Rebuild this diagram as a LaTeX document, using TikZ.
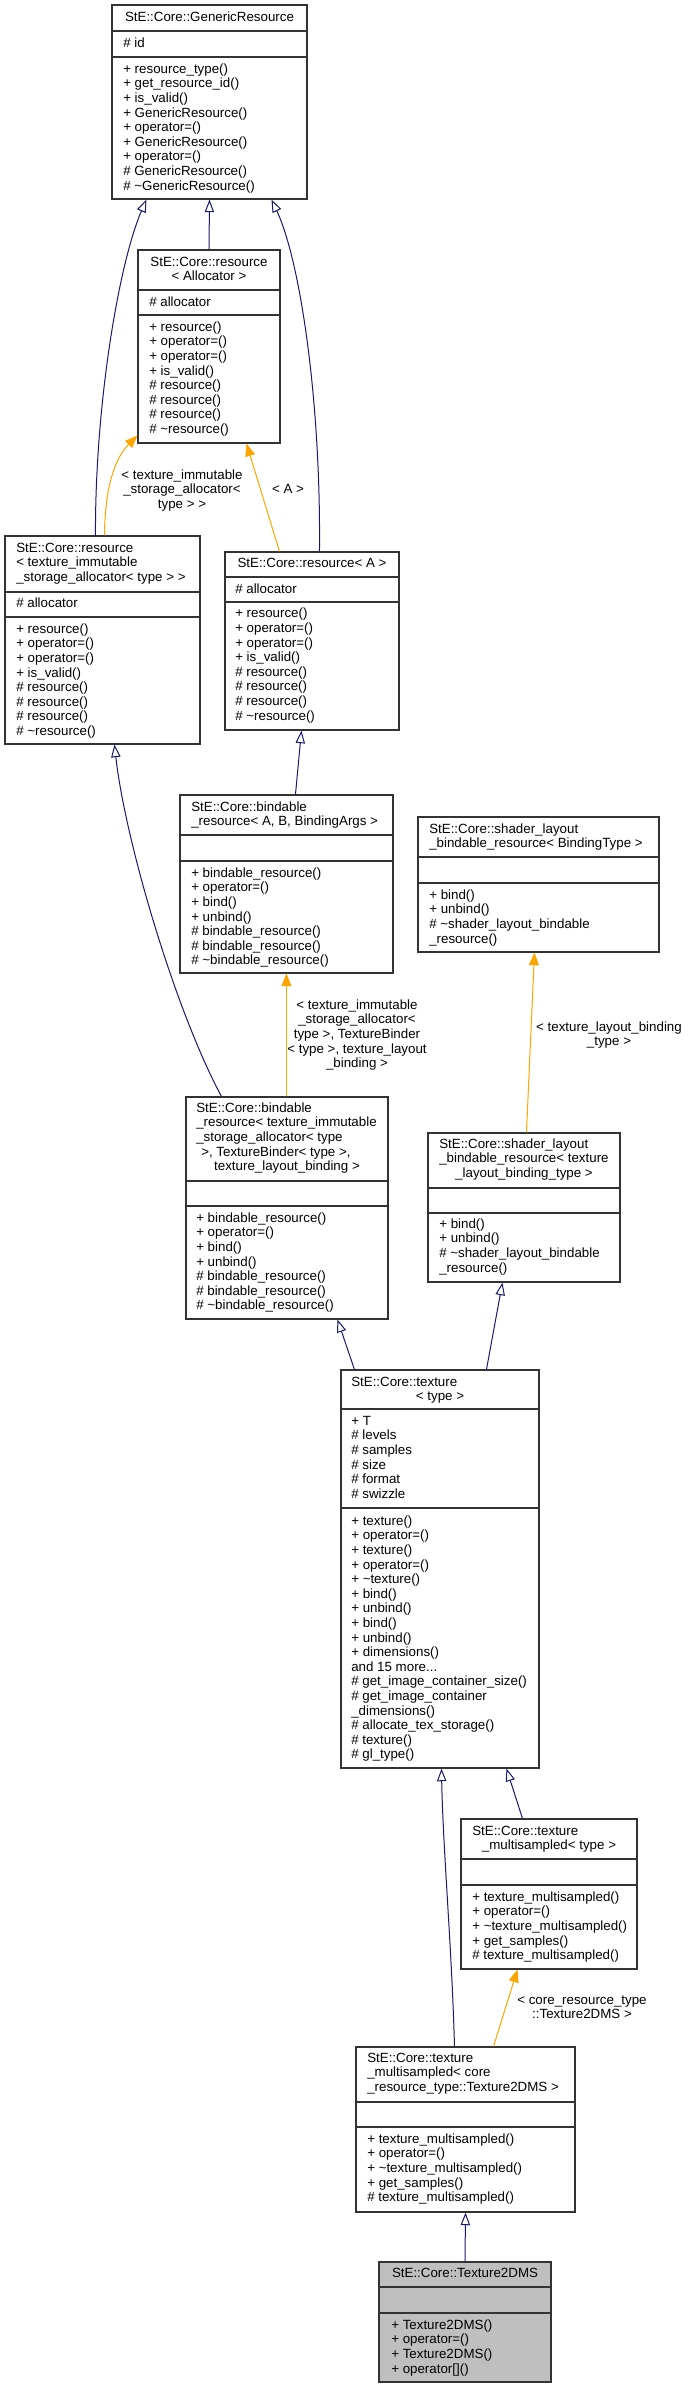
\documentclass[tikz,border=0pt]{standalone}
\usepackage{fontspec}
\setmainfont{Liberation Sans}
\usetikzlibrary{arrows.meta,calc,fit}
\definecolor{mblue}{HTML}{191970}
\definecolor{dorange}{HTML}{FFA500}
\definecolor{boxgray}{HTML}{BFBFBF}
\newcommand\classlines[5]{%
  \foreach \clitem [count=\clidx from 0] in {#5} {%
    \node[txt, anchor=#4] (#1-\clidx) at (#2, {#3+4.3+14.6*\clidx}) {\clitem};}}
\newcommand\hsep[2]{\draw[sepline] (#1.west |- 0,#2) -- (#1.east |- 0,#2);}
\begin{document}
\begin{tikzpicture}[x=0.75pt,y=-0.75pt,
  cls/.style={draw=black!80, line width=0.8pt, fill=white, inner sep=0pt},
  sepline/.style={draw=black!80, line width=0.8pt},
  txt/.style={inner sep=0pt, font=\fontsize{10}{12}\selectfont},
  inh/.style={draw=mblue, line width=0.75pt, -{Triangle[length=9.5pt, width=7pt, fill=white]}},
  tpl/.style={draw=dorange, line width=0.75pt, -{Triangle[length=9.5pt, width=7.5pt]}}]
\fill[white] (0,0) rectangle (689,2388);
\useasboundingbox (0,0) rectangle (689,2388);

% GenericResource
\node[cls, fit={(112,5) (307,199)}] (G) {};
\hsep{G}{31}\hsep{G}{57}
\classlines{Gt}{209.5}{17}{base}{{StE::Core::GenericResource}}
\classlines{Ga}{123}{43}{base west}{{\# id}}
\classlines{Gm}{123}{69}{base west}{{+ resource\_type()},{+ get\_resource\_id()},{+ is\_valid()},{+ GenericResource()},{+ operator=()},{+ GenericResource()},{+ operator=()},{\# GenericResource()},{\# \textasciitilde GenericResource()}}

% resource<Allocator>
\node[cls, fit={(138,250) (280,443)}] (RA) {};
\hsep{RA}{290}\hsep{RA}{315}
\classlines{RAt}{209}{262}{base}{{StE::Core::resource},{< Allocator >}}
\classlines{RAa}{149}{302}{base west}{{\# allocator}}
\classlines{RAm}{149}{327}{base west}{{+ resource()},{+ operator=()},{+ operator=()},{+ is\_valid()},{\# resource()},{\# resource()},{\# resource()},{\# \textasciitilde resource()}}

% resource<texture_immutable...>
\node[cls, fit={(5,536) (200,744)}] (RT) {};
\hsep{RT}{592}\hsep{RT}{617}
\classlines{RTt}{16}{548}{base west}{{StE::Core::resource},{< texture\_immutable},{\_storage\_allocator< type > >}}
\classlines{RTa}{16}{603}{base west}{{\# allocator}}
\classlines{RTm}{16}{629}{base west}{{+ resource()},{+ operator=()},{+ operator=()},{+ is\_valid()},{\# resource()},{\# resource()},{\# resource()},{\# \textasciitilde resource()}}

% resource<A>
\node[cls, fit={(225,552) (399,730)}] (RAA) {};
\hsep{RAA}{577}\hsep{RAA}{602}
\classlines{RAAt}{312}{563}{base}{{StE::Core::resource< A >}}
\classlines{RAAa}{235}{589}{base west}{{\# allocator}}
\classlines{RAAm}{235}{613.5}{base west}{{+ resource()},{+ operator=()},{+ operator=()},{+ is\_valid()},{\# resource()},{\# resource()},{\# resource()},{\# \textasciitilde resource()}}

% bindable_resource<A,B,BindingArgs>
\node[cls, fit={(180,795) (393,973)}] (BR) {};
\hsep{BR}{835}\hsep{BR}{861}
\classlines{BRt}{191}{807}{base west}{{StE::Core::bindable},{\_resource< A, B, BindingArgs >}}
\classlines{BRm}{191}{873}{base west}{{+ bindable\_resource()},{+ operator=()},{+ bind()},{+ unbind()},{\# bindable\_resource()},{\# bindable\_resource()},{\# \textasciitilde bindable\_resource()}}

% shader_layout_bindable_resource<BindingType>
\node[cls, fit={(418,817) (659,952)}] (SLB) {};
\hsep{SLB}{857}\hsep{SLB}{883}
\classlines{SLBt}{429}{829}{base west}{{StE::Core::shader\_layout},{\_bindable\_resource< BindingType >}}
\classlines{SLBm}{429}{895}{base west}{{+ bind()},{+ unbind()},{\# \textasciitilde shader\_layout\_bindable},{\_resource()}}

% bindable_resource<texture_immutable...>
\node[cls, fit={(186,1097) (388,1319)}] (BRT) {};
\hsep{BRT}{1181}\hsep{BRT}{1206}
\classlines{BRTt}{196}{1108}{base west}{{StE::Core::bindable},{\_resource< texture\_immutable},{\_storage\_allocator< type}}
\classlines{BRTu}{201}{1151.8}{base west}{{>, TextureBinder< type >,}}
\classlines{BRTv}{287}{1166.4}{base}{{texture\_layout\_binding >}}
\classlines{BRTm}{196}{1218}{base west}{{+ bindable\_resource()},{+ operator=()},{+ bind()},{+ unbind()},{\# bindable\_resource()},{\# bindable\_resource()},{\# \textasciitilde bindable\_resource()}}

% shader_layout_bindable_resource<texture_layout_binding_type>
\node[cls, fit={(428,1133) (620,1282)}] (SLB2) {};
\hsep{SLB2}{1188}\hsep{SLB2}{1213}
\classlines{SLB2t}{439}{1144}{base west}{{StE::Core::shader\_layout},{\_bindable\_resource< texture}}
\classlines{SLB2u}{524}{1173.2}{base}{{\_layout\_binding\_type >}}
\classlines{SLB2m}{439}{1224}{base west}{{+ bind()},{+ unbind()},{\# \textasciitilde shader\_layout\_bindable},{\_resource()}}

% texture<type>
\node[cls, fit={(341,1370) (539,1768)}] (TEX) {};
\hsep{TEX}{1409}\hsep{TEX}{1508}
\classlines{TEXt}{351}{1382}{base west}{{StE::Core::texture}}
\classlines{TEXu}{440}{1396.6}{base}{{< type >}}
\classlines{TEXa}{351}{1421}{base west}{{+ T},{\# levels},{\# samples},{\# size},{\# format},{\# swizzle}}
\classlines{TEXm}{351}{1521}{base west}{{+ texture()},{+ operator=()},{+ texture()},{+ operator=()},{+ \textasciitilde texture()},{+ bind()},{+ unbind()},{+ bind()},{+ unbind()},{+ dimensions()},{and 15 more.\kern0pt.\kern0pt.},{\# get\_image\_container\_size()},{\# get\_image\_container},{\_dimensions()},{\# allocate\_tex\_storage()},{\# texture()},{\# gl\_type()}}

% texture_multisampled<type>
\node[cls, fit={(461,1819) (637,1969)}] (TMT) {};
\hsep{TMT}{1859}\hsep{TMT}{1885}
\classlines{TMTt}{472}{1831}{base west}{{StE::Core::texture}}
\classlines{TMTu}{549}{1845.6}{base}{{\_multisampled< type >}}
\classlines{TMTm}{472}{1897}{base west}{{+ texture\_multisampled()},{+ operator=()},{+ \textasciitilde texture\_multisampled()},{+ get\_samples()},{\# texture\_multisampled()}}

% texture_multisampled<core_resource_type::Texture2DMS>
\node[cls, fit={(356,2047) (575,2212)}] (TM2) {};
\hsep{TM2}{2102}\hsep{TM2}{2127}
\classlines{TM2t}{367}{2058}{base west}{{StE::Core::texture},{\_multisampled< core},{\_resource\_type::Texture2DMS >}}
\classlines{TM2m}{367}{2139}{base west}{{+ texture\_multisampled()},{+ operator=()},{+ \textasciitilde texture\_multisampled()},{+ get\_samples()},{\# texture\_multisampled()}}

% Texture2DMS
\node[cls, fill=boxgray, fit={(379,2262) (551,2382)}] (T2) {};
\hsep{T2}{2287}\hsep{T2}{2313}
\classlines{T2t}{465}{2273}{base}{{StE::Core::Texture2DMS}}
\classlines{T2m}{391}{2325}{base west}{{+ Texture2DMS()},{+ operator=()},{+ Texture2DMS()},{+ operator[]()}}

% ---- connectors ----
\draw[inh] (RA.north) -- (G.south);
\draw[inh] ($(RT.north west)+(91,0)$) .. controls (95,400) and (120,260) .. ($(G.south west)+(35,0)$);
\draw[inh] ($(RAA.north west)+(95,0)$) .. controls (321,400) and (300,260) .. ($(G.south west)+(160,0)$);
\draw[tpl] ($(RT.north west)+(100,0)$) .. controls (105,480) and (118,455) .. ($(RA.south west)+(0,-8)$);
\draw[tpl] ($(RAA.north west)+(55,0)$) -- ($(RA.south west)+(109,0)$);
\draw[inh] ($(BR.north west)+(116,0)$) -- ($(RAA.south west)+(77,0)$);
\draw[tpl] ($(BRT.north west)+(101,0)$) -- ($(BR.south west)+(107,0)$);
\draw[inh] ($(BRT.north west)+(36,0)$) .. controls (175,1010) and (125,840) .. ($(RT.south west)+(110,0)$);
\draw[tpl] ($(SLB2.north west)+(99,0)$) -- ($(SLB.south west)+(117,0)$);
\draw[inh] ($(TEX.north west)+(14,0)$) -- ($(BRT.south west)+(152,0)$);
\draw[inh] ($(TEX.north west)+(146,0)$) -- ($(SLB2.south west)+(75,0)$);
\draw[inh] ($(TM2.north west)+(99,0)$) .. controls (452,1950) and (443,1850) .. ($(TEX.south west)+(101,0)$);
\draw[inh] ($(TMT.north west)+(62,0)$) -- ($(TEX.south west)+(166,0)$);
\draw[tpl] ($(TM2.north west)+(138,0)$) -- ($(TMT.south west)+(57,0)$);
\draw[inh] (T2.north) -- (TM2.south);

% ---- edge labels ----
\classlines{L1}{182}{475}{base}{{< texture\_immutable},{\_storage\_allocator<},{type > >}}
\classlines{L2}{288}{489}{base}{{< A >}}
\classlines{L3}{357}{1005}{base}{{< texture\_immutable},{\_storage\_allocator<},{type >, TextureBinder},{< type >, texture\_layout},{\_binding >}}
\classlines{L4}{609}{1027}{base}{{< texture\_layout\_binding},{\_type >}}
\classlines{L5}{582}{2000}{base}{{< core\_resource\_type},{::Texture2DMS >}}
\end{tikzpicture}
\end{document}
